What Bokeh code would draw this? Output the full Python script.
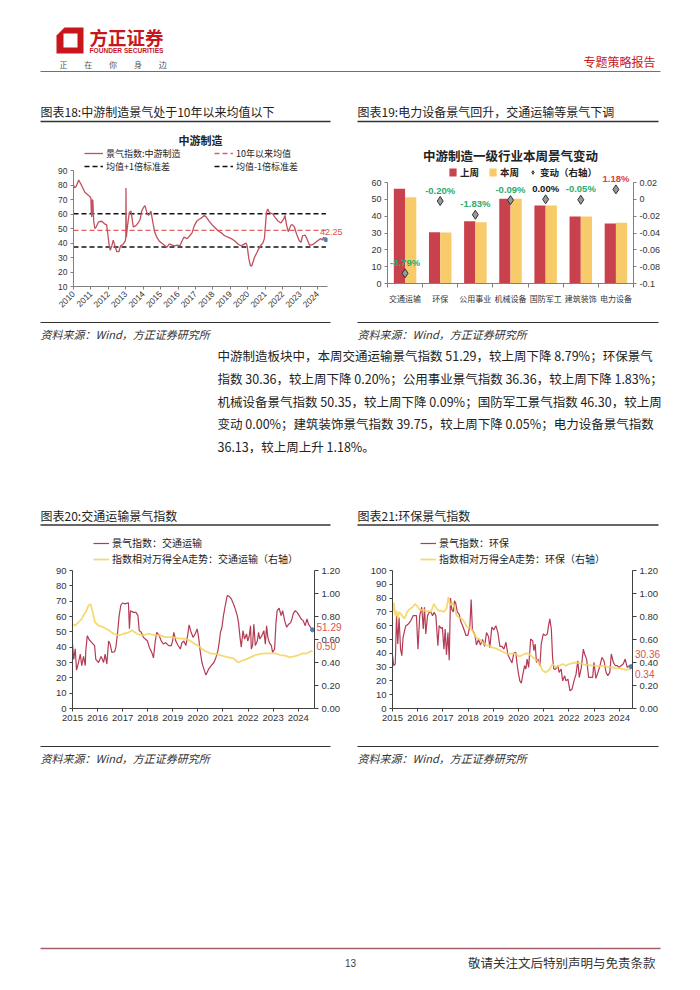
import math
from bokeh.plotting import figure
from bokeh.models import (Range1d, LinearAxis, Legend, LegendItem, Label, Spacer,
                          FixedTicker, NumeralTickFormatter, PrintfTickFormatter)
from bokeh.layouts import column, row
from bokeh.core.properties import value
from bokeh.embed import file_html
from bokeh.resources import INLINE

CJK = "Noto Sans CJK SC"
NUM = "Liberation Sans"

# ---------------- data ----------------
# Chart 18: 中游制造景气指数
c18_year = [2010.00,2010.08,2010.15,2010.30,2010.45,2010.65,2010.85,2010.97,
            2011.00,2011.02,2011.05,2011.08,2011.11,2011.16,2011.22,2011.30,2011.43,2011.62,2011.81,2011.90,2011.98,
            2012.05,2012.11,2012.20,2012.28,2012.38,2012.48,2012.60,2012.70,2012.84,2012.97,
            2013.00,2013.01,2013.03,2013.10,2013.20,2013.30,2013.43,2013.58,2013.72,2013.83,2013.91,
            2014.02,2014.10,2014.21,2014.30,2014.44,2014.57,2014.67,2014.78,2014.90,
            2015.05,2015.20,2015.35,2015.50,2015.67,2015.80,2015.95,
            2016.10,2016.23,2016.33,2016.52,2016.67,2016.80,2016.93,
            2017.09,2017.24,2017.38,2017.51,2017.63,2017.76,2017.95,
            2018.08,2018.29,2018.48,2018.67,2018.86,
            2019.05,2019.24,2019.43,2019.62,2019.81,2019.90,2019.96,
            2020.06,2020.15,2020.23,2020.38,2020.57,2020.72,2020.86,2020.95,
            2021.01,2021.07,2021.14,2021.24,2021.43,2021.56,2021.71,2021.90,
            2022.06,2022.13,2022.23,2022.32,2022.48,2022.57,2022.67,2022.80,2022.95,
            2023.05,2023.14,2023.28,2023.39,2023.53,2023.71,2023.90,
            2024.00,2024.19,2024.29,2024.34,2024.48]
c18_val = [80,78,79,83.5,80,75,73,71.5,
           70.5,61,58,70,69,55,50,51,54.5,55,53,52.5,45,
           38,35,38,42,38,34,34,38,39,41.5,
           44,78,44,52,61,62,51,52,54,56.6,62,
           64.6,65.8,61,59,62,53,47,44,41.6,
           40,38.6,37,39.4,38.6,38,38.6,
           38,41.6,44,43,45,47,52,
           55.4,56.6,57.7,59,57.7,55.4,52.5,
           51,48.5,47,45,44,
           43,41.6,39.3,38,39.4,40,38,
           29,24.3,24.3,30,34.7,38,40,43,
           52,61,63.5,61,60,57.7,55.4,53.8,
           56.6,59,52,47.8,52.5,52.5,51,46,41.6,
           40.5,45,45.5,43,38.6,38.8,40.5,
           41.6,43,42,44,42.25]
c18_mean = 48.7
c18_sd = 11.5
c18_xticks = [2010, 2011, 2012, 2013, 2014, 2015, 2016, 2017, 2018, 2019, 2020, 2021, 2022, 2023, 2024]
c18_yticks = [10, 20, 30, 40, 50, 60, 70, 80, 90]

# Chart 19: 中游制造一级行业本周景气变动
c19_cats = ["交通运输", "环保", "公用事业", "机械设备", "国防军工", "建筑装饰", "电力设备"]
c19_prev = [56.23, 30.42, 37.04, 50.40, 46.30, 39.77, 35.71]
c19_curr = [51.29, 30.36, 36.36, 50.35, 46.30, 39.75, 36.13]
c19_chg = [-0.0879, -0.0020, -0.0183, -0.0009, 0.0, -0.0005, 0.0118]
c19_lticks = [0, 10, 20, 30, 40, 50, 60]
c19_rticks = [-0.1, -0.08, -0.06, -0.04, -0.02, 0, 0.02]

# Chart 20: 交通运输
c20_year = [2015.00,2015.05,2015.11,2015.16,2015.24,2015.31,2015.37,2015.44,2015.51,2015.53,
            2015.59,2015.66,2015.77,2015.88,2015.93,2016.04,2016.14,2016.24,2016.30,2016.37,
            2016.44,2016.50,2016.57,2016.68,2016.73,2016.80,2016.86,2016.93,2016.99,2017.10,
            2017.23,2017.27,2017.31,2017.43,2017.53,2017.61,2017.66,2017.74,2017.83,2017.90,
            2017.99,2018.06,2018.16,2018.23,2018.30,2018.36,2018.46,2018.54,2018.63,2018.72,
            2018.83,2018.94,2018.99,2019.04,2019.12,2019.20,2019.30,2019.36,2019.44,2019.52,
            2019.60,2019.65,2019.73,2019.81,2019.89,2019.97,2020.03,2020.09,2020.16,2020.24,
            2020.32,2020.43,2020.53,2020.64,2020.72,2020.80,2020.85,2020.90,2020.96,2021.02,
            2021.09,2021.17,2021.25,2021.33,2021.42,2021.49,2021.57,2021.62,2021.68,2021.73,
            2021.80,2021.86,2021.94,2021.99,2022.05,2022.10,2022.13,2022.18,2022.23,2022.29,
            2022.37,2022.42,2022.47,2022.55,2022.63,2022.69,2022.74,2022.79,2022.85,2022.93,
            2022.98,2023.06,2023.11,2023.16,2023.24,2023.32,2023.38,2023.46,2023.54,2023.62,
            2023.70,2023.75,2023.80,2023.88,2023.96,2024.04,2024.12,2024.20,2024.28,2024.35,
            2024.41,2024.49,2024.57]
c20_val = [42,32,39,25,30,35.5,28,34,28,37.7,
           47.5,45,43,41,32,30,34,30,35.5,29,
           44,42,36.6,37,40,49.7,60.6,67.5,68.8,68.2,
           69,52,63.8,62.7,62.7,60.6,50.8,49.7,46.4,45.3,
           44,40,36.6,33,44,49.7,47.5,44,42,43,
           41,41,44,49.7,44,41.4,38.8,42.7,44,41,
           48.6,54.5,49.7,46.4,48.6,51.9,46.4,37.7,30,25.7,
           21.8,25.7,27.9,30,33.3,37.7,43,49.7,53,60.6,
           67,73.6,73.2,71.5,68.2,65,60.6,56,46.4,40,
           50.8,45.3,48.6,44,47.5,54,38.8,41,55,41,
           44,49.7,45.3,47.5,50.8,42,54,46.4,43,41,
           36.6,38.8,55,63.8,65.4,60.6,63.8,57.3,53,55,
           56,58.4,61.7,63.8,62.7,60.6,58.4,57.3,54,58.4,
           55,53,51.29]
c20_rel_year = [2015.00,2015.11,2015.24,2015.37,2015.44,2015.53,2015.64,2015.72,2015.80,2015.90,
                2016.04,2016.24,2016.44,2016.64,2016.84,2017.03,2017.23,2017.37,2017.57,2017.77,
                2018.03,2018.30,2018.50,2018.70,2018.96,2019.23,2019.49,2019.69,2019.89,2020.03,
                2020.16,2020.29,2020.49,2020.69,2020.89,2021.02,2021.22,2021.42,2021.62,2021.76,
                2021.89,2022.09,2022.29,2022.49,2022.69,2022.89,2023.09,2023.28,2023.48,2023.68,
                2023.87,2024.02,2024.18,2024.35,2024.47,2024.57]
c20_rel = [0.735,0.72,0.75,0.78,0.81,0.84,0.895,0.91,0.84,0.75,
           0.72,0.705,0.68,0.65,0.635,0.65,0.66,0.68,0.65,0.635,
           0.65,0.635,0.635,0.62,0.62,0.61,0.605,0.59,0.56,0.545,
           0.52,0.50,0.48,0.475,0.465,0.455,0.445,0.435,0.40,0.415,
           0.425,0.445,0.465,0.475,0.48,0.48,0.48,0.465,0.46,0.445,
           0.455,0.465,0.48,0.48,0.495,0.50]

# Chart 21: 环保
c21_year = [2015.00,2015.05,2015.11,2015.16,2015.21,2015.26,2015.32,2015.37,2015.42,2015.48,
            2015.53,2015.63,2015.73,2015.82,2015.95,2016.01,2016.08,2016.16,2016.22,2016.27,
            2016.32,2016.39,2016.46,2016.53,2016.59,2016.65,2016.72,2016.80,2016.85,2016.93,
            2016.98,2017.04,2017.09,2017.14,2017.20,2017.25,2017.30,2017.35,2017.41,2017.46,
            2017.51,2017.57,2017.65,2017.71,2017.78,2017.86,2017.91,2017.99,2018.07,2018.12,
            2018.17,2018.23,2018.28,2018.33,2018.41,2018.49,2018.57,2018.65,2018.73,2018.81,
            2018.86,2018.94,2019.02,2019.10,2019.18,2019.26,2019.34,2019.42,2019.50,2019.58,
            2019.66,2019.74,2019.81,2019.89,2019.95,2020.00,2020.05,2020.11,2020.16,2020.24,
            2020.29,2020.34,2020.40,2020.48,2020.56,2020.61,2020.66,2020.71,2020.77,2020.85,
            2020.90,2020.98,2021.06,2021.14,2021.19,2021.24,2021.30,2021.35,2021.40,2021.48,
            2021.56,2021.61,2021.69,2021.75,2021.83,2021.88,2021.96,2022.04,2022.12,2022.20,
            2022.28,2022.35,2022.41,2022.49,2022.57,2022.62,2022.70,2022.78,2022.86,2022.94,
            2022.99,2023.07,2023.15,2023.23,2023.31,2023.39,2023.47,2023.54,2023.62,2023.68,
            2023.76,2023.84,2023.92,2023.99,2024.07,2024.15,2024.23,2024.31,2024.39,2024.46]
c21_val = [38.3,31,32.2,67.3,46.7,66,43,38.3,51.6,56.4,
           60,61.3,63.7,67.3,67.3,43,67.3,73.4,57.6,73.4,
           54,67.3,69.7,69.7,67.3,69.7,67.3,45.5,60,58,
           58.8,43,57.6,39,55,35,80,72,70,78,
           76,70,68,63,60,56,53,53,60,79,
           57,55,52,46,50,46,50,45,55,52,
           44,59,57,60,55,45,45,43,48,38.7,
           35.8,33,40,40.7,31,24.9,20,18.4,23.7,31,
           28.6,35.8,29.8,50.4,49,41.9,46.7,33.4,35.8,31,
           46.7,54,52.8,54,60,64.9,57.6,37,28.6,28.6,
           31,26.2,28.6,20,23.7,20,21.3,12.8,14,20,
           24.9,34.6,22.5,29.8,43,39.5,35.8,22.5,22.5,22.5,
           33.4,21.8,26.2,31,37,34.6,26.2,23.7,26.2,39.5,
           33.4,31,31,29.8,31,32.2,35.8,29.8,31,30.36]
c21_rel_year = [2015.00,2015.05,2015.11,2015.16,2015.21,2015.26,2015.37,2015.48,2015.58,2015.69,2015.79,2015.90,
                2016.01,2016.11,2016.22,2016.32,2016.43,2016.53,2016.64,2016.72,2016.83,2016.93,
                2017.04,2017.14,2017.22,2017.30,2017.38,2017.46,2017.54,2017.65,2017.75,2017.86,2017.96,
                2018.07,2018.17,2018.31,2018.44,2018.57,2018.70,2018.84,2018.97,
                2019.10,2019.23,2019.37,2019.50,2019.63,2019.76,2019.89,
                2020.03,2020.16,2020.29,2020.42,2020.56,2020.69,2020.82,2020.95,
                2021.08,2021.22,2021.35,2021.48,2021.61,2021.75,2021.88,
                2022.01,2022.14,2022.28,2022.41,2022.54,2022.67,2022.80,2022.94,
                2023.07,2023.20,2023.33,2023.47,2023.60,2023.73,2023.86,2023.99,
                2024.13,2024.26,2024.39,2024.46]
c21_rel = [0.837,0.92,0.81,0.85,0.78,0.84,0.81,0.78,0.84,0.866,
           0.88,0.91,0.88,0.85,0.866,0.84,0.85,0.84,0.91,0.88,
           0.85,0.85,0.84,0.866,0.97,0.895,0.92,0.88,0.81,0.79,
           0.78,0.75,0.706,0.706,0.677,0.62,0.605,0.575,0.55,0.547,
           0.53,0.523,0.51,0.494,0.48,0.474,0.48,0.474,0.453,0.465,
           0.48,0.474,0.445,0.424,0.40,0.33,0.314,0.337,0.387,0.357,
           0.372,0.387,0.372,0.387,0.395,0.40,0.395,0.387,0.378,0.378,
           0.372,0.372,0.366,0.372,0.366,0.357,0.357,0.349,0.349,0.343,
           0.337,0.343,0.34]

year_ticks_15 = [2015, 2016, 2017, 2018, 2019, 2020, 2021, 2022, 2023, 2024]
rel_ticks = [0, 0.2, 0.4, 0.6, 0.8, 1.0, 1.2]

# page texts
chart_titles = ["图表18:中游制造景气处于10年以来均值以下", "图表19:电力设备景气回升，交通运输等景气下调",
                "图表20:交通运输景气指数", "图表21:环保景气指数"]
source_text = "资料来源：Wind，方正证券研究所"
para_lines = ["中游制造板块中，本周交通运输景气指数 51.29，较上周下降 8.79%；环保景气",
              "指数 30.36，较上周下降 0.20%；公用事业景气指数 36.36，较上周下降 1.83%；",
              "机械设备景气指数 50.35，较上周下降 0.09%；国防军工景气指数 46.30，较上周",
              "变动 0.00%；建筑装饰景气指数 39.75，较上周下降 0.05%；电力设备景气指数",
              "36.13，较上周上升 1.18%。"]
slogan = ["正", "在", "你", "身", "边"]

RED_BRAND = "#C8161D"
RED18 = "#C2505E"
RED_LINE = "#B43B55"
YEL_LINE = "#F3D35C"
RED_BAR = "#C9414D"
YEL_BAR = "#F8CB6A"
LBL_RED = "#D9534F"


def page_fig(h, y0):
    p = figure(width=700, height=h, x_range=Range1d(0, 700), y_range=Range1d(y0 + h, y0),
               output_backend="svg", toolbar_location=None, min_border=0,
               x_axis_type=None, y_axis_type=None, title=None)
    p.outline_line_color = None
    p.frame_align = False
    return p


def ptext(p, x, y, txt, size, color="#222222", font=CJK, align="left", style="normal"):
    p.text(x=[x], y=[y], text=[txt], text_font=value(font), text_font_size=size,
           text_color=color, text_align=align, text_baseline="middle", text_font_style=style)


def style_axis(ax, size="9px", line_color="#808080", color="#333333"):
    ax.major_label_text_font = NUM
    ax.major_label_text_font_size = size
    ax.major_label_text_color = color
    ax.axis_line_color = line_color
    ax.major_tick_line_color = line_color
    ax.major_tick_in = 0
    ax.major_tick_out = 3
    ax.minor_tick_line_color = None
    ax.major_label_standoff = 3


def style_legend(lg, size, glyph_w=18):
    lg.label_text_font = CJK
    lg.label_text_font_size = size
    lg.label_text_color = "#222222"
    lg.glyph_width = glyph_w
    lg.glyph_height = 10
    lg.label_height = 10
    lg.label_standoff = 3
    lg.padding = 0
    lg.margin = 0
    lg.spacing = 3
    lg.border_line_color = None
    lg.background_fill_alpha = 0


def base_fig(w, h, xr, yr, left, right, top, bottom):
    p = figure(width=w, height=h, x_range=xr, y_range=yr, output_backend="svg", toolbar_location=None,
               min_border_left=left, min_border_right=right, min_border_top=top, min_border_bottom=bottom,
               title=None)
    p.grid.visible = False
    p.outline_line_color = None
    p.frame_align = False
    return p


# ---------------- header ----------------
hdr = page_fig(124, 0)
hdr.patch(x=[64, 83, 83, 56, 56], y=[27, 27, 53, 53, 35], fill_color=RED_BRAND, line_color=None)
hdr.quad(left=[63], right=[77], top=[33], bottom=[47], fill_color="white", line_color=None)
ptext(hdr, 89, 36, "方正证券", "18.5px", RED_BRAND, style="bold")
ptext(hdr, 89, 50, "FOUNDER SECURITIES", "6.6px", RED_BRAND, font=NUM, style="bold")
for i, ch in enumerate(slogan):
    ptext(hdr, 59 + i * 24.8, 63.5, ch, "8px", "#555555")
ptext(hdr, 655, 61, "专题策略报告", "12px", RED_BRAND, align="right")
hdr.line([40, 660], [71, 71], line_color="#B8505E", line_width=1)
ptext(hdr, 40, 111, chart_titles[0], "12px", "#222222")
ptext(hdr, 357, 111, chart_titles[1], "12px", "#222222")
hdr.line([40, 330], [121, 121], line_color="#333333", line_width=1.5)
hdr.line([357, 658], [121, 121], line_color="#333333", line_width=1.5)

# ---------------- chart 18 ----------------
# frame spans page y 124..286; the 10..90 value band spans y 170..286
c18_frame_h, c18_data_h = 162, 116
c18_ytop = 10 + 80 * c18_frame_h / c18_data_h
p18 = base_fig(310, 197, Range1d(2010, 2024.57), Range1d(10, c18_ytop), 33, 22, 0, 35)
xe = [c18_year[0], c18_year[-1]]
r_up = p18.line(xe, [c18_mean + c18_sd] * 2, line_color="#111111", line_dash="5 3", line_width=1.5)
r_dn = p18.line(xe, [c18_mean - c18_sd] * 2, line_color="#111111", line_dash="5 3", line_width=1.5)
r_mean = p18.line(xe, [c18_mean] * 2, line_color="#E0605F", line_dash="5 3", line_width=1.3)
r_main = p18.line(c18_year, c18_val, line_color=RED18, line_width=1.3)
p18.scatter([c18_year[-1]], [c18_val[-1]], size=4, color="#4F81BD")
p18.add_layout(Label(x=c18_year[-1], y=c18_val[-1], text=f"{c18_val[-1]:.2f}", x_offset=-6, y_offset=8,
                     text_color=LBL_RED, text_font=NUM, text_font_size="9px", text_baseline="middle"), "right")
p18.xaxis.ticker = FixedTicker(ticks=c18_xticks)
p18.yaxis.ticker = FixedTicker(ticks=c18_yticks)
p18.yaxis.bounds = (10, 90)
p18.xaxis.major_label_orientation = math.pi / 4
style_axis(p18.xaxis[0], "8.5px")
style_axis(p18.yaxis[0], "8.5px")
lg18 = Legend(items=[LegendItem(label="景气指数:中游制造", renderers=[r_main]),
                     LegendItem(label="10年以来均值", renderers=[r_mean]),
                     LegendItem(label="均值+1倍标准差", renderers=[r_up]),
                     LegendItem(label="均值-1倍标准差", renderers=[r_dn])],
              orientation="horizontal", ncols=2, location=(11, 113.5))
style_legend(lg18, "9px", 19)
lg18.spacing = 0
lg18.label_width = 108
p18.add_layout(lg18, "center")
p18.add_layout(Label(x=(2010 + 2024.57) / 2, y=10 + 80 * (286 - 139) / c18_data_h, text="中游制造",
                     text_align="center", text_baseline="middle", text_font=CJK, text_font_size="11px",
                     text_font_style="bold", text_color="#222222"))

# ---------------- chart 19 ----------------
# frame spans page y 124..283; the 0..60 value band spans y 182..283
c19_frame_h, c19_data_h = 159, 101
xs = [i + 0.5 for i in range(len(c19_cats))]
p19 = base_fig(308, 197, Range1d(0, len(c19_cats)), Range1d(0, 60 * c19_frame_h / c19_data_h),
               30, 32, 0, 38)
p19.extra_y_ranges = {"chg": Range1d(-0.1, -0.1 + 0.12 * c19_frame_h / c19_data_h)}
r_prev = p19.vbar(x=[x - 0.16 for x in xs], top=c19_prev, width=0.32, fill_color=RED_BAR, line_color=None)
r_curr = p19.vbar(x=[x + 0.16 for x in xs], top=c19_curr, width=0.32, fill_color=YEL_BAR, line_color=None)
r_chg = p19.scatter(xs, c19_chg, marker="diamond", size=9, fill_color="#999999", line_color="#333333",
                    line_width=1, y_range_name="chg")
chg_labels = [f"{c * 100:.2f}%" for c in c19_chg]
chg_colors = ["#2EAA6A" if c < 0 else ("#E23B3B" if c > 0 else "#111111") for c in c19_chg]
p19.text(x=xs, y=c19_chg, text=chg_labels, y_range_name="chg", y_offset=-11, text_align="center",
         text_baseline="middle", text_font=value(NUM), text_font_size="9.5px", text_font_style="bold",
         text_color=chg_colors)
p19.xaxis.ticker = FixedTicker(ticks=xs, minor_ticks=list(range(len(c19_cats) + 1)))
p19.xaxis.major_label_overrides = {x: c for x, c in zip(xs, c19_cats)}
p19.yaxis.ticker = FixedTicker(ticks=c19_lticks)
p19.yaxis.bounds = (0, 60)
style_axis(p19.xaxis[0], "8px")
style_axis(p19.yaxis[0], "9px")
p19.xaxis.major_label_text_font = CJK
p19.xaxis.major_tick_line_color = None
p19.xaxis.minor_tick_line_color = "#808080"
p19.xaxis.minor_tick_out = 4
p19.xaxis.minor_tick_in = 0
p19.xaxis.major_label_standoff = 5
rax = LinearAxis(y_range_name="chg", ticker=FixedTicker(ticks=c19_rticks),
                 formatter=PrintfTickFormatter(format="%g"), bounds=(-0.1, 0.02))
style_axis(rax, "9px")
p19.add_layout(rax, "right")
lg19 = Legend(items=[LegendItem(label="上周", renderers=[r_prev]),
                     LegendItem(label="本周", renderers=[r_curr]),
                     LegendItem(label="变动（右轴）", renderers=[r_chg])],
              orientation="horizontal", location=(61, 104))
style_legend(lg19, "9.5px", 9)
lg19.spacing = 8
lg19.label_text_font_style = "bold"
p19.add_layout(lg19, "center")
p19.add_layout(Label(x=len(c19_cats) / 2, y=60 * (283 - 155) / c19_data_h, text="中游制造一级行业本周景气变动",
                     text_align="center", text_baseline="middle", text_font=CJK, text_font_size="12.5px",
                     text_font_style="bold", text_color="#222222"))

# ---------------- mid page section ----------------
mid = page_fig(205, 321)
mid.line([40, 330], [322, 322], line_color="#333333", line_width=1)
mid.line([357, 658], [322, 322], line_color="#333333", line_width=1)
ptext(mid, 40, 333, source_text, "11px", "#333333", style="italic")
ptext(mid, 357, 333, source_text, "11px", "#333333", style="italic")
for i, ln in enumerate(para_lines):
    ptext(mid, 217, 355 + i * 22.75, ln, "12.5px", "#222222")
ptext(mid, 40, 515, chart_titles[2], "12px", "#222222")
ptext(mid, 357, 515, chart_titles[3], "12px", "#222222")
mid.line([40, 330], [524.5, 524.5], line_color="#333333", line_width=1.5)
mid.line([357, 658], [524.5, 524.5], line_color="#333333", line_width=1.5)


# ---------------- charts 20 / 21 ----------------
# frame spans page y 526..708; the value band spans y 570..708
DUAL_FRAME_H, DUAL_DATA_H = 182, 138


def dual_chart(width, left, right, xend, ymax, yticks, yr, yv, ry, rv, names, loc_x, lbl_offsets, lbl_side):
    p = base_fig(width, 219, Range1d(2015, xend), Range1d(0, ymax * DUAL_FRAME_H / DUAL_DATA_H),
                 left, right, 0, 37)
    p.extra_y_ranges = {"r": Range1d(0, 1.2 * DUAL_FRAME_H / DUAL_DATA_H)}
    r_idx = p.line(yr, yv, line_color=RED_LINE, line_width=1.2)
    r_rel = p.line(ry, rv, line_color=YEL_LINE, line_width=1.8, line_alpha=0.85, y_range_name="r")
    p.scatter([yr[-1]], [yv[-1]], size=4, color="#4F81BD")
    p.xaxis.ticker = FixedTicker(ticks=year_ticks_15)
    p.yaxis.ticker = FixedTicker(ticks=yticks)
    p.yaxis.bounds = (0, ymax)
    style_axis(p.xaxis[0], "9.5px", "#404040")
    style_axis(p.yaxis[0], "9.5px", "#404040")
    ra = LinearAxis(y_range_name="r", ticker=FixedTicker(ticks=rel_ticks),
                    formatter=NumeralTickFormatter(format="0.00"), bounds=(0, 1.2))
    style_axis(ra, "9.5px", "#404040")
    ra.major_tick_out = 4
    p.add_layout(ra, "right")
    p.add_layout(Label(x=yr[-1], y=yv[-1], text=f"{yv[-1]:.2f}", x_offset=4, y_offset=lbl_offsets[0],
                       text_color=LBL_RED, text_font=NUM, text_font_size="10px", text_baseline="middle"),
                 lbl_side)
    p.add_layout(Label(x=ry[-1], y=rv[-1], text=f"{rv[-1]:.2f}", x_offset=4, y_offset=lbl_offsets[1],
                       y_range_name="r", text_color=LBL_RED, text_font=NUM, text_font_size="10px",
                       text_baseline="middle"), "below")
    lg = Legend(items=[LegendItem(label=names[0], renderers=[r_idx]),
                       LegendItem(label=names[1], renderers=[r_rel])],
                orientation="vertical", location=(loc_x, 142))
    style_legend(lg, "10px", 16)
    lg.spacing = 1
    p.add_layout(lg, "center")
    return p


p20 = dual_chart(332, 52, 38, 2024.65, 90, [0, 10, 20, 30, 40, 50, 60, 70, 80, 90],
                 c20_year, c20_val, c20_rel_year, c20_rel,
                 ["景气指数：交通运输", "指数相对万得全A走势：交通运输（右轴）"], 21, (3, 5), "left")
p21 = dual_chart(343, 35, 68, 2024.52, 100, [0, 10, 20, 30, 40, 50, 60, 70, 80, 90, 100],
                 c21_year, c21_val, c21_rel_year, c21_rel,
                 ["景气指数：环保", "指数相对万得全A走势：环保（右轴）"], 28, (13, -5), "right")

# ---------------- bottom page section ----------------
bot = page_fig(245, 745)
bot.line([40, 330], [746, 746], line_color="#333333", line_width=1)
bot.line([357, 658], [746, 746], line_color="#333333", line_width=1)
ptext(bot, 40, 757, source_text, "11px", "#333333", style="italic")
ptext(bot, 357, 757, source_text, "11px", "#333333", style="italic")
bot.line([40, 660], [948, 948], line_color="#A0606A", line_width=1.3)
ptext(bot, 350, 962, "13", "10px", "#444444", font=NUM, align="center")
ptext(bot, 655, 962, "敬请关注文后特别声明与免责条款", "12.5px", "#333333", align="right")

layout = column(
    hdr,
    row(Spacer(width=40, height=197), p18, Spacer(width=7, height=197), p19, Spacer(width=35, height=197)),
    mid,
    row(Spacer(width=20, height=219), p20, Spacer(width=5, height=219), p21),
    bot,
)

open("out.html", "w").write(file_html(layout, INLINE, title="专题策略报告"))
